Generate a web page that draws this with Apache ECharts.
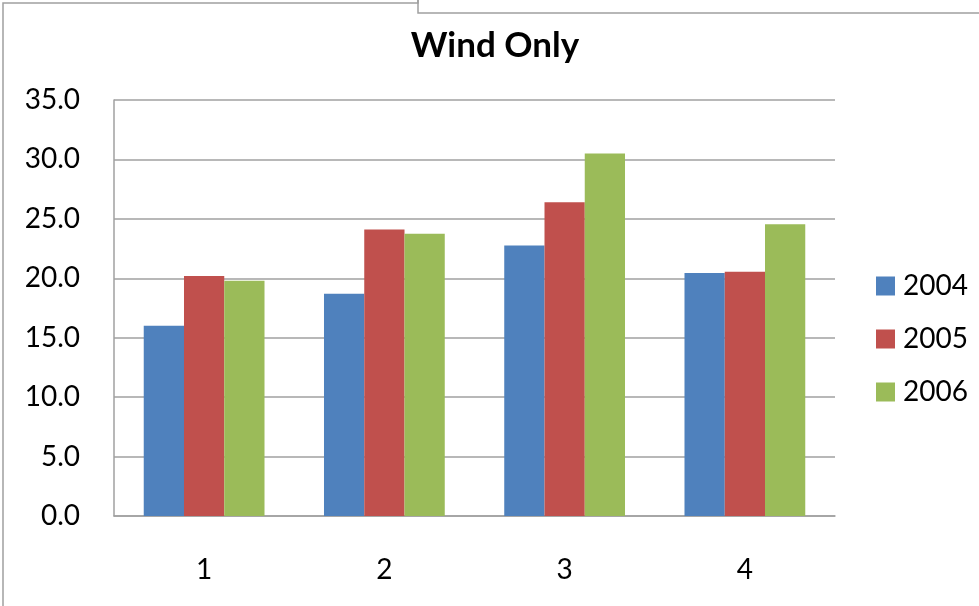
<!DOCTYPE html>
<html>
<head>
<meta charset="utf-8">
<script src="https://cdn.jsdelivr.net/npm/echarts@6/dist/echarts.min.js"></script>
<style>html,body{margin:0;padding:0;background:#fff;}#c{width:979px;height:606px;}</style>
</head>
<body>
<div id="c"></div>
<script>
const categories = ['1', '2', '3', '4'];
const seriesNames = ['2004', '2005', '2006'];
const values2004 = [16.0, 18.7, 22.75, 20.45];
const values2005 = [20.2, 24.1, 26.4, 20.55];
const values2006 = [19.8, 23.75, 30.5, 24.55];
const yTicks = [0, 5, 10, 15, 20, 25, 30, 35];
const colors = ['#4F81BD', '#C0504D', '#9BBB59'];

const chart = echarts.init(document.getElementById('c'), null, {renderer: 'canvas'});
const labelFont = 'Lato';
const allValues = [values2004, values2005, values2006];
chart.setOption({
  animation: false,
  backgroundColor: '#fff',
  title: {
    text: 'Wind Only', left: 490, top: 23, textAlign: 'center',
    textStyle: {fontFamily: 'Lato', fontWeight: 'bold', fontSize: 35, color: '#000'}
  },
  legend: {
    orient: 'vertical', left: 871, top: 267,
    itemWidth: 19, itemHeight: 19, itemGap: 25,
    icon: 'rect',
    textStyle: {fontFamily: labelFont, fontSize: 28, color: '#000', padding: [0, 0, 0, 3]},
    data: seriesNames
  },
  grid: {left: 114, right: 144, top: 100, bottom: 90, containLabel: false},
  xAxis: {
    type: 'category', data: categories,
    axisLine: {lineStyle: {color: '#A0A0A0', width: 1.5}},
    axisTick: {show: false},
    axisLabel: {fontFamily: labelFont, fontSize: 28, color: '#000', margin: 40}
  },
  yAxis: {
    type: 'value', min: yTicks[0], max: yTicks[yTicks.length - 1], interval: 5,
    axisLine: {show: true, lineStyle: {color: '#A0A0A0', width: 1.5}},
    axisTick: {show: false},
    splitLine: {lineStyle: {color: '#A0A0A0', width: 1.5}},
    axisLabel: {fontFamily: labelFont, fontSize: 28, color: '#000', margin: 34,
      formatter: v => v.toFixed(1)}
  },
  series: seriesNames.map((n, i) => ({
    name: n, type: 'bar', data: allValues[i],
    barGap: '0%', barCategoryGap: '33%',
    itemStyle: {color: colors[i]}
  })),
  graphic: [
    {type: 'polyline', shape: {points: [[3, 606], [3, 3], [418, 3], [418, 0]]}, style: {stroke: '#A0A0A0', lineWidth: 1.5, fill: null}},
    {type: 'polyline', shape: {points: [[418, 0], [418, 13], [979, 13]]}, style: {stroke: '#A0A0A0', lineWidth: 1.5, fill: null}}
  ]
});
</script>
</body>
</html>
